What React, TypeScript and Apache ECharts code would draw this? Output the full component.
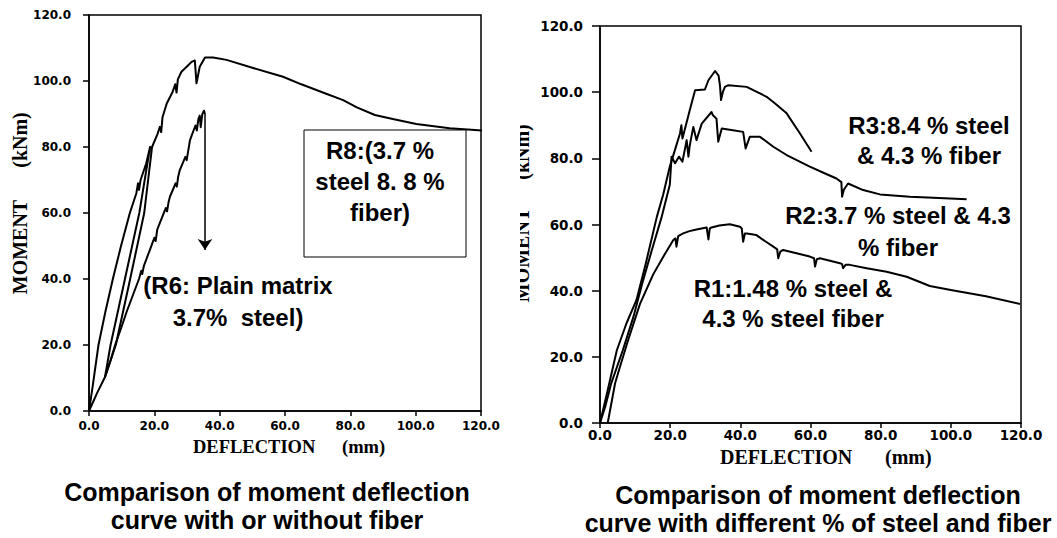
import React, { useEffect, useRef } from "react";
import * as echarts from "echarts";

// Left chart: R8 (3.7% steel, 8.8% fiber) and R6 (plain matrix 3.7% steel)
const r8: number[][] = [
  [0, 0], [1.2, 8], [2.9, 20], [5, 30], [7.3, 40], [9.8, 50], [12.5, 60], [14.5, 66], [15, 69], [15.3, 67],
  [15.8, 70], [17.5, 75], [18.7, 80],
  [15.4, 60], [11, 40], [6.6, 20], [4.9, 10.3], [8.2, 20], [12.6, 40], [16.9, 60], [19.3, 80],
  [21, 84], [21.7, 86.1], [22.1, 84.5], [22.5, 89], [23.8, 93.2], [25.5, 96.5], [26.4, 99], [26.8, 96.5],
  [27.2, 100.5], [28.3, 102.8], [29.9, 104.3], [31.4, 105.8], [32.4, 106.2], [32.9, 99.3], [33.9, 104.3],
  [35.5, 107.1], [38, 107.1], [42.1, 106.4], [50, 104], [59.4, 101.3], [65, 99], [72.2, 96.3], [77.8, 94.2],
  [82, 92], [87.5, 89.7], [93, 88.5], [100.2, 87], [110.4, 85.7], [123.1, 84.8],
];
const r6: number[][] = [
  [0, 0], [2.5, 5.5], [4.9, 10.3], [6.5, 15], [8, 20], [9.8, 25], [11.5, 30], [13.4, 35], [15.3, 40], [16, 42.5],
  [16.3, 41.5], [16.8, 44], [18.7, 49], [20, 52.5], [20.4, 51.5], [20.9, 55], [21.7, 57], [23.5, 61.5],
  [23.9, 60.5], [24.4, 63.5], [24.8, 65], [26.5, 69], [26.9, 68], [27.3, 71], [27.8, 73], [29.5, 77], [29.9, 76],
  [30.4, 79], [30.9, 82], [32, 85], [32.6, 86.5], [33, 85], [33.5, 88.5], [33.9, 89.5], [34.2, 86], [34.7, 90],
  [35.2, 91], [35.5, 90],
];
const r6Arrow: number[][] = [[35.5, 90], [35.5, 48.8]];

// Right chart: R3, R2, R1
const r3: number[][] = [
  [0, 0], [2, 9], [4.8, 22], [7.5, 30], [10.4, 37.2], [13, 48], [16.2, 62.3], [18, 69], [19.9, 77.5], [21.5, 83],
  [22.8, 87.5], [23.2, 90], [23.5, 86], [24, 88], [25.6, 94.6], [27.1, 100.6], [29.9, 100.8], [30.9, 103.6],
  [32.8, 106.4], [33.8, 105], [34.2, 102], [34.5, 97.6], [35, 100], [35.6, 101.6], [36.6, 102.1], [41.8, 101.6],
  [47.5, 98.6], [50, 96.5], [53.2, 93.6], [57, 87.5], [60.3, 82],
];
const r2: number[][] = [
  [0, 0], [1.5, 5], [3.2, 12], [6.5, 22], [9.5, 32], [12, 42], [14.7, 52], [17.5, 62], [19.9, 72], [20.4, 80.5],
  [21.4, 78.5], [22.5, 80.5], [23.5, 79], [24.7, 85.5], [25.2, 80.5], [25.6, 84], [26.6, 89.5], [27.5, 85.5],
  [29, 90.5], [31.8, 94], [32.2, 93], [33.2, 92], [33.7, 85], [34.7, 89], [37.9, 88.5], [40.8, 88], [41.5, 83],
  [42.7, 86.5], [45.6, 86.5], [49.4, 83.5], [53.2, 81], [59.8, 77.5], [64, 75.5], [67.4, 73.9], [68.8, 72.8],
  [69, 68.4], [69.5, 70.5], [70.7, 72.4], [75, 70.4], [79.8, 69.1], [88.3, 68.4], [95, 68.1], [104.5, 67.6],
];
const r1: number[][] = [
  [2.2, 0], [4.3, 12], [5.7, 17], [8, 25], [11.4, 36], [15.2, 45], [18, 50.2], [20.9, 55.3], [21.5, 55.8],
  [21.8, 53.3], [22.3, 56.5], [23.7, 57.3], [25.5, 58], [27.5, 58.5], [30.4, 59.1], [30.9, 55.5], [31.3, 58.8],
  [31.8, 59.1], [34, 59.7], [37, 60.1], [39.9, 59.3], [40.4, 58.8], [40.8, 54.8], [41.3, 57.3], [41.8, 57.3],
  [44.6, 56.8], [47, 55], [49.4, 53.3], [50.5, 52.5], [50.8, 49.8], [51.4, 51.8], [52.2, 52.3], [56, 51.3],
  [59.8, 50.3], [61, 49.8], [61.3, 47.3], [61.8, 49.5], [62.7, 49.8], [68.4, 48.3], [69, 48], [69.3, 46.8],
  [70, 47.8], [71.2, 47.8], [76, 46.8], [81.7, 45.7], [87.4, 44.2], [91, 42.7], [94, 41.4], [100, 40.2],
  [110, 38.3], [119.7, 36],
];

const annotLeft = [
  { lines: ["R8:(3.7 %", "steel 8. 8 %", "fiber)"], x: 380, y: 150, lh: 31 },
  { lines: ["(R6: Plain matrix", "3.7%  steel)"], x: 238, y: 285, lh: 32 },
];
const annotRight = [
  { lines: ["R3:8.4 % steel", "& 4.3 % fiber"], x: 929, y: 125, lh: 30 },
  { lines: ["R2:3.7 % steel & 4.3", "% fiber"], x: 898, y: 215, lh: 32 },
  { lines: ["R1:1.48 % steel &", "4.3 % steel fiber"], x: 793, y: 288, lh: 30 },
];
const captions = [
  { lines: ["Comparison of moment deflection", "curve with or without fiber"], x: 267, y: 492 },
  { lines: ["Comparison of moment deflection", "curve with different % of steel and fiber"], x: 818, y: 495 },
];

const SERIF = "'Liberation Serif', 'Times New Roman', serif";
const SANS = "'Liberation Sans', Arial, sans-serif";
const TICKF = "'DejaVu Sans', sans-serif";

function makeX(gridIndex: number, fs: number, margin: number) {
  return {
    type: "value", gridIndex, min: 0, max: 120, interval: 20,
    axisLine: { show: true, onZero: false, lineStyle: { color: "#000", width: 1.5 } },
    axisTick: { show: true, length: 5, lineStyle: { color: "#000", width: 1.5 } },
    axisLabel: {
      color: "#000", fontFamily: TICKF, fontWeight: "bold", fontSize: fs, margin,
      formatter: (v: number) => v.toFixed(1), showMaxLabel: true, showMinLabel: true,
    },
    splitLine: { show: false },
  };
}
function makeY(gridIndex: number, fs: number, margin: number, tickLen: number) {
  return {
    type: "value", gridIndex, min: 0, max: 120, interval: 20,
    axisLine: { show: true, onZero: false, lineStyle: { color: "#000", width: 1.5 } },
    axisTick: { show: true, length: tickLen, lineStyle: { color: "#000", width: 1.5 } },
    axisLabel: {
      color: "#000", fontFamily: TICKF, fontWeight: "bold", fontSize: fs, margin,
      formatter: (v: number) => v.toFixed(1), showMaxLabel: true, showMinLabel: true,
    },
    splitLine: { show: false },
  };
}
function lineSeries(name: string, data: number[][], idx: number, extra: any = {}) {
  return {
    name, type: "line", data, xAxisIndex: idx, yAxisIndex: idx, showSymbol: false, symbol: "none",
    lineStyle: { color: "#000", width: 2, join: "round" }, silent: true, ...extra,
  };
}

function textBlock(lines: string[], cx: number, cy: number, lh: number, fs: number, font: string) {
  return lines.map((t, i) => ({
    type: "text", x: cx, y: cy + i * lh, z: 10,
    style: { text: t, fill: "#000", font: `bold ${fs}px ${font}`, align: "center", verticalAlign: "middle" },
  }));
}

export default function App() {
  const ref = useRef<HTMLDivElement>(null);
  useEffect(() => {
    if (!ref.current) return;
    const chart = echarts.init(ref.current, null, { renderer: "svg" });
    const graphics: any[] = [];
    graphics.push({
      type: "rect", shape: { x: 304, y: 130, width: 162, height: 127 }, z: 5,
      style: { fill: "#fff", stroke: "#000", lineWidth: 1 },
    });
    annotLeft.forEach((a) => graphics.push(...textBlock(a.lines, a.x, a.y, a.lh, 24, SANS)));
    annotRight.forEach((a) => graphics.push(...textBlock(a.lines, a.x, a.y, a.lh, 24, SANS)));
    captions.forEach((c) => graphics.push(...textBlock(c.lines, c.x, c.y, 28, 25, SANS)));
    const t = (text: string, x: number, y: number, fs: number, rot = 0, align = "left") => ({
      type: "text", x, y, rotation: rot, z: 8,
      style: { text, fill: "#000", font: `bold ${fs}px ${SERIF}`, align, verticalAlign: "middle" },
    });
    graphics.push(t("DEFLECTION", 193, 447, 18.5));
    graphics.push(t("(mm)", 342, 447, 18.5));
    graphics.push(t("DEFLECTION", 720, 457, 20));
    graphics.push(t("(mm)", 885, 457, 20));
    graphics.push(t("MOMENT", 20, 247, 20, Math.PI / 2, "center"));
    graphics.push(t("(kNm)", 20, 140, 20, Math.PI / 2, "center"));
    graphics.push(t("MOMENT", 522, 255, 20, Math.PI / 2, "center"));
    graphics.push(t("(kNm)", 522, 152, 20, Math.PI / 2, "center"));
    graphics.push({ type: "rect", shape: { x: 494, y: 90, width: 26, height: 230 }, z: 9, style: { fill: "#fff" } });

    chart.setOption({
      animation: false,
      backgroundColor: "#fff",
      grid: [
        { left: 89, top: 15, width: 392, height: 396, show: true, borderColor: "#000", borderWidth: 1.5, backgroundColor: "transparent" },
        { left: 600, top: 26, width: 421, height: 397, show: true, borderColor: "#000", borderWidth: 1.5, backgroundColor: "transparent" },
      ],
      xAxis: [makeX(0, 12, 9), makeX(1, 13.5, 5)],
      yAxis: [makeY(0, 12, 18, 6), makeY(1, 13.5, 17, 8)],
      series: [
        lineSeries("R8", r8, 0, { clip: false }),
        lineSeries("R6", r6, 0, {
          markLine: {
            silent: true, symbol: ["none", "arrow"], symbolSize: 11, animation: false,
            label: { show: false },
            lineStyle: { color: "#000", width: 1.5, type: "solid" },
            data: [[{ coord: r6Arrow[0] }, { coord: r6Arrow[1] }]],
          },
        }),
        lineSeries("R3", r3, 1),
        lineSeries("R2", r2, 1),
        lineSeries("R1", r1, 1),
      ],
      graphic: graphics,
    });
    return () => chart.dispose();
  }, []);
  return <div ref={ref} style={{ position: "fixed", left: 0, top: 0, width: 1057, height: 538 }} />;
}
